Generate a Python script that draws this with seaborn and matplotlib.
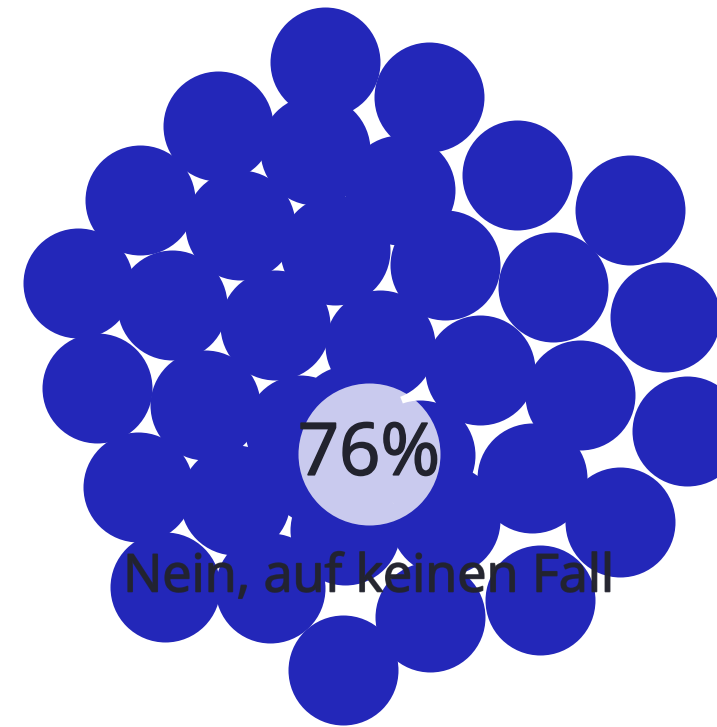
import matplotlib
matplotlib.use("Agg")
import matplotlib.pyplot as plt
import matplotlib.patheffects as pe
import seaborn as sns
import pandas as pd

# bubble centres in pixel space (x right, y down), all same radius
bubble_x = [325, 429, 218, 315, 400, 517, 630, 140, 240, 335, 445, 553, 665,
            78, 172, 275, 380, 480, 580, 687, 97, 205, 300, 532, 138, 235,
            345, 445, 620, 165, 270, 430, 540, 343, 420, 320, 350]
bubble_y = [62, 97, 126, 150, 190, 175, 210, 200, 225, 250, 265, 287, 317,
            283, 305, 325, 345, 370, 395, 431, 388, 405, 430, 478, 487, 500,
            530, 520, 522, 587, 588, 617, 600, 670, 455, 470, 420]
bubble_r = 55

highlight_x = [369]
highlight_y = [454]
highlight_r = 71

value_label = "76%"
category_label = "Nein, auf keinen Fall"

blue = "#2327b9"
text_color = "#22232e"

W, H, DPI = 717, 727, 100


def px_to_s(r):
    # marker area in pt^2 for a circle of radius r pixels
    d_pt = 2 * r * 72.0 / DPI
    return d_pt ** 2


def main():
    sns.set_theme(style="white")
    plt.rcParams["font.family"] = ["Open Sans", "DejaVu Sans"]

    fig = plt.figure(figsize=(W / DPI, H / DPI), dpi=DPI)
    ax = fig.add_axes([0, 0, 1, 1])

    df = pd.DataFrame({"x": bubble_x, "y": bubble_y})
    sns.scatterplot(data=df, x="x", y="y", s=px_to_s(bubble_r), color=blue,
                    linewidth=0, ax=ax, legend=False)

    hl = pd.DataFrame({"x": highlight_x, "y": highlight_y})
    sns.scatterplot(data=hl, x="x", y="y", s=px_to_s(highlight_r), color="white",
                    alpha=0.76, linewidth=0, ax=ax, legend=False)

    # slight stroke so the text looks a bit heavier, like the original
    thick = [pe.withStroke(linewidth=1.2, foreground=text_color)]
    ax.text(highlight_x[0], highlight_y[0] + 2, value_label, ha="center",
            va="center", fontsize=52, color=text_color, path_effects=thick)
    ax.text(highlight_x[0], 578, category_label, ha="center", va="center",
            fontsize=37.5, color=text_color, alpha=0.85, path_effects=thick)

    ax.set_xlim(0, W)
    ax.set_ylim(H, 0)
    ax.axis("off")
    fig.savefig("out.png", dpi=DPI, facecolor="white")


if __name__ == "__main__":
    main()
